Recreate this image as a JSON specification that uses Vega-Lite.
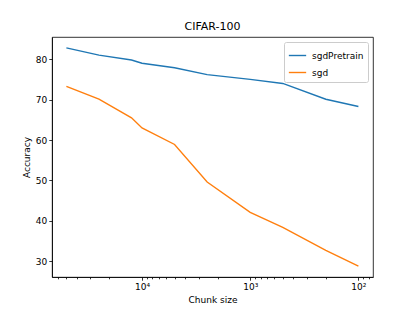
{
  "$schema": "https://vega.github.io/schema/vega-lite/v6.json",
  "width": 321,
  "height": 240,
  "autosize": {"type": "none"},
  "padding": {"left": 52, "top": 37, "right": 42, "bottom": 34},
  "background": "white",
  "title": {"text": "CIFAR-100", "fontSize": 11, "fontWeight": "normal", "font": "DejaVu Sans", "color": "black", "offset": 5},
  "data": {
    "values": [
      {"chunk": 50000, "acc": 82.8, "method": "sgdPretrain"},
      {"chunk": 25000, "acc": 81.0, "method": "sgdPretrain"},
      {"chunk": 12500, "acc": 79.8, "method": "sgdPretrain"},
      {"chunk": 10000, "acc": 79.0, "method": "sgdPretrain"},
      {"chunk": 5000, "acc": 77.9, "method": "sgdPretrain"},
      {"chunk": 2500, "acc": 76.2, "method": "sgdPretrain"},
      {"chunk": 1000, "acc": 75.0, "method": "sgdPretrain"},
      {"chunk": 500, "acc": 74.0, "method": "sgdPretrain"},
      {"chunk": 200, "acc": 70.1, "method": "sgdPretrain"},
      {"chunk": 100, "acc": 68.3, "method": "sgdPretrain"},
      {"chunk": 50000, "acc": 73.3, "method": "sgd"},
      {"chunk": 25000, "acc": 70.1, "method": "sgd"},
      {"chunk": 12500, "acc": 65.5, "method": "sgd"},
      {"chunk": 10000, "acc": 63.0, "method": "sgd"},
      {"chunk": 5000, "acc": 58.9, "method": "sgd"},
      {"chunk": 2500, "acc": 49.6, "method": "sgd"},
      {"chunk": 1000, "acc": 42.1, "method": "sgd"},
      {"chunk": 500, "acc": 38.4, "method": "sgd"},
      {"chunk": 200, "acc": 32.7, "method": "sgd"},
      {"chunk": 100, "acc": 28.8, "method": "sgd"}
    ]
  },
  "mark": {"type": "line", "strokeWidth": 1.4, "clip": true},
  "encoding": {
    "x": {
      "field": "chunk",
      "type": "quantitative",
      "title": "Chunk size",
      "scale": {"type": "log", "domain": [73.3, 67900], "reverse": true, "nice": false},
      "axis": {
        "values": [80, 90, 100, 200, 300, 400, 500, 600, 700, 800, 900, 1000, 2000, 3000, 4000, 5000, 6000, 7000, 8000, 9000, 10000, 20000, 30000, 40000, 50000, 60000],
        "labelExpr": "datum.value == 10000 ? '10⁴' : datum.value == 1000 ? '10³' : datum.value == 100 ? '10²' : ''",
        "labelOverlap": false,
        "labelFlush": false,
        "tickSize": {"condition": {"test": "datum.value == 100 || datum.value == 1000 || datum.value == 10000", "value": 3.2}, "value": 1.8},
        "grid": false
      }
    },
    "y": {
      "field": "acc",
      "type": "quantitative",
      "title": "Accuracy",
      "scale": {"domain": [26.1, 85.5], "nice": false, "zero": false},
      "axis": {"values": [30, 40, 50, 60, 70, 80], "grid": false, "tickSize": 3.2}
    },
    "color": {
      "field": "method",
      "type": "nominal",
      "scale": {"domain": ["sgdPretrain", "sgd"], "range": ["#1f77b4", "#ff7f0e"]},
      "legend": {"title": null}
    }
  },
  "config": {
    "font": "DejaVu Sans",
    "view": {"stroke": "black", "strokeWidth": 0.8},
    "axis": {
      "domainColor": "black",
      "domainWidth": 0.8,
      "tickColor": "black",
      "tickWidth": 0.8,
      "labelFont": "DejaVu Sans",
      "labelFontSize": 9,
      "labelColor": "black",
      "labelPadding": 2,
      "titleFont": "DejaVu Sans",
      "titleFontSize": 9,
      "titleFontWeight": "normal",
      "titleColor": "black",
      "titlePadding": 4
    },
    "legend": {
      "orient": "top-right",
      "offset": 5,
      "padding": 4,
      "strokeColor": "#cccccc",
      "fillColor": "white",
      "cornerRadius": 2,
      "symbolType": "stroke",
      "symbolSize": 300,
      "symbolStrokeWidth": 1.4,
      "labelFont": "DejaVu Sans",
      "labelFontSize": 9,
      "labelColor": "black",
      "labelOffset": 5,
      "rowPadding": 2
    }
  }
}
